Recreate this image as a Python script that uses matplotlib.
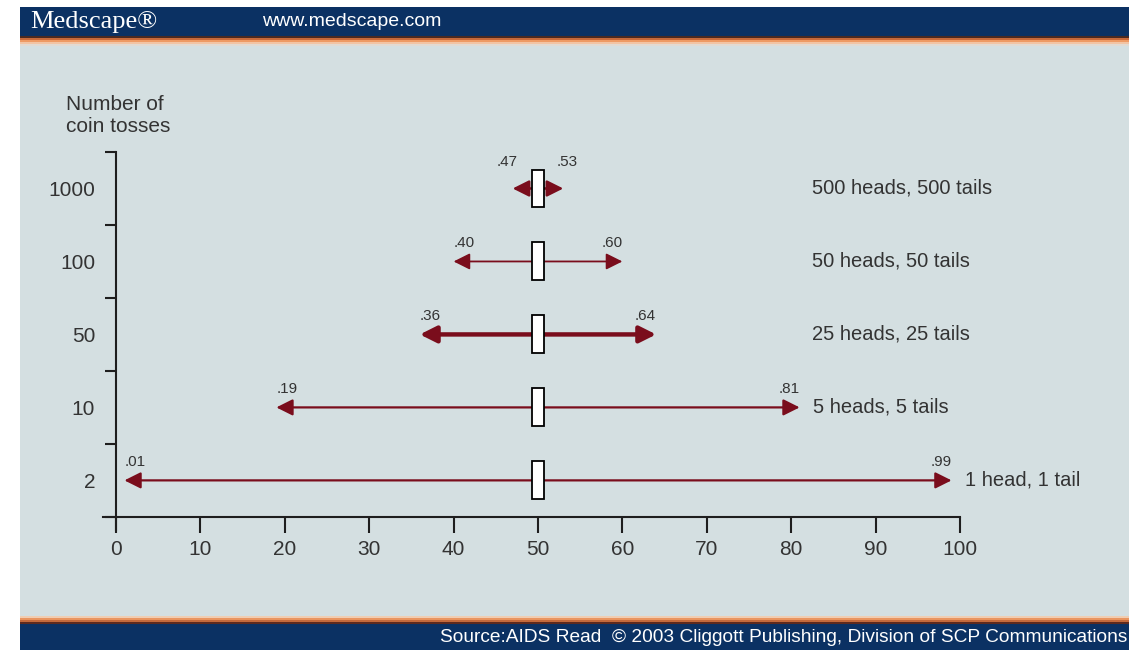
"""
Coin-toss confidence ranges (Medscape / AIDS Read figure).
Renders out.png at 1138x650.
"""

import matplotlib
matplotlib.use("Agg")
import matplotlib.pyplot as plt
from matplotlib.patches import Rectangle, FancyArrowPatch

# --- Data ---
tosses   = ["2", "10", "50", "100", "1000"]
low      = [0.01, 0.19, 0.36, 0.40, 0.47]
high     = [0.99, 0.81, 0.64, 0.60, 0.53]
low_txt  = [".01", ".19", ".36", ".40", ".47"]
high_txt = [".99", ".81", ".64", ".60", ".53"]
outcomes = ["1 head, 1 tail", "5 heads, 5 tails", "25 heads, 25 tails",
            "50 heads, 50 tails", "500 heads, 500 tails"]
x_ticks  = [0, 10, 20, 30, 40, 50, 60, 70, 80, 90, 100]
mean     = 50

# --- Palette ---
NAVY   = "#0B3163"
BG     = "#D4DFE1"
INK    = "#333333"
AXIS   = "#1E1E1E"
ARROW  = "#7A0D1C"
LINE   = "#8E1A28"
row_lw = [1.6, 1.6, 3.2, 1.3, 1.8]

W, H = 1138, 650
fig = plt.figure(figsize=(W / 100, H / 100), dpi=100)
fig.patch.set_facecolor("white")


def band(y0, y1, color, x0=20, x1=1129):
    fig.add_artist(Rectangle((x0 / W, 1 - y1 / H), (x1 - x0) / W, (y1 - y0) / H,
                             transform=fig.transFigure, facecolor=color,
                             lw=0, zorder=0))


# page frame: header, content, footer
band(7, 36, NAVY)
band(36, 38, "#4A2A22")
band(38, 40, "#C8693A")
band(40, 42, "#EE9A64")
band(42, 44, "#F2C4A4")
band(44, 46, "#E2DAD2")
band(46, 616, BG)
band(616, 618, "#EFCDB2")
band(618, 620, "#E99560")
band(620, 622, "#C46A3C")
band(622, 624, "#5E2A1E")
band(624, 650, NAVY)

fig.text(30 / W, 1 - 22 / H, "Medscape®", family="Liberation Serif", fontsize=19,
         color="white", va="center", ha="left")
fig.text(262 / W, 1 - 22 / H, "www.medscape.com", family="Liberation Sans",
         fontsize=14, color="white", va="center", ha="left")
fig.text(1127 / W, 1 - 637 / H,
         "Source:AIDS Read  \u00a9 2003 Cliggott Publishing, Division of SCP Communications",
         family="Liberation Sans", fontsize=13.8, color="white", va="center", ha="right")

# --- Axes (pixel-matched placement) ---
x_lo, x_hi = -1.5, 100
y_lo, y_hi = -0.18, len(tosses)
px0, px1 = 103.3, 960
py_top, py_bot = 152, 530
ax = fig.add_axes([px0 / W, 1 - py_bot / H, (px1 - px0) / W, (py_bot - py_top) / H])
ax.set_facecolor("none")
ax.set_xlim(x_lo, x_hi)
ax.set_ylim(y_lo, y_hi)

for s in ["top", "right"]:
    ax.spines[s].set_visible(False)
ax.spines["left"].set_position(("data", 0))
ax.spines["bottom"].set_position(("data", 0))
for s in ["left", "bottom"]:
    ax.spines[s].set_linewidth(1.5)
    ax.spines[s].set_color(AXIS)

ax.set_xticks(x_ticks)
ax.tick_params(axis="x", direction="out", length=11.5, width=1.5, color=AXIS,
               labelsize=15, labelcolor=INK, pad=5)
for lab in ax.get_xticklabels():
    lab.set_family("Liberation Sans")

ax.set_yticks(range(len(tosses) + 1))
ax.set_yticklabels([])
ax.set_yticks([i + 0.5 for i in range(len(tosses))], minor=True)
ax.set_yticklabels(tosses, minor=True, family="Liberation Sans")
ax.tick_params(axis="y", which="major", direction="out", length=8, width=1.5, color=AXIS)
ax.tick_params(axis="y", which="minor", length=0, labelsize=15, labelcolor=INK, pad=15)

ax.text(-5.9, 5.22, "Number of\ncoin tosses", family="Liberation Sans", fontsize=15,
        color=INK, ha="left", va="bottom", linespacing=1.2, clip_on=False)

for i in range(len(tosses)):
    yc = i + 0.5
    lo, hi = low[i] * 100, high[i] * 100
    arr = FancyArrowPatch((lo, yc), (hi, yc),
                          arrowstyle="<|-|>,head_length=0.9,head_width=0.45",
                          mutation_scale=11, shrinkA=0, shrinkB=0,
                          lw=row_lw[i], color=LINE, fc=ARROW, ec=ARROW, zorder=3)
    ax.add_patch(arr)
    ax.add_patch(Rectangle((mean - 0.71, yc - 0.26), 1.42, 0.52, facecolor="white",
                           edgecolor="black", lw=1.3, zorder=4))
    narrow = (hi - lo) < 10
    ax.text(lo + (0.6 if narrow else 0), yc + (0.27 if narrow else 0.16), low_txt[i],
            fontsize=11, family="Liberation Sans", color=INK,
            ha="right" if narrow else "left", va="bottom")
    ax.text(hi - (0.8 if narrow else 0), yc + (0.27 if narrow else 0.16), high_txt[i],
            fontsize=11, family="Liberation Sans", color=INK,
            ha="left" if narrow else "right", va="bottom")
    ax.text(max(82.5, hi + 1.6), yc, outcomes[i], fontsize=14.5,
            family="Liberation Sans", color=INK, ha="left", va="center",
            clip_on=False)

fig.savefig("out.png", dpi=100)
